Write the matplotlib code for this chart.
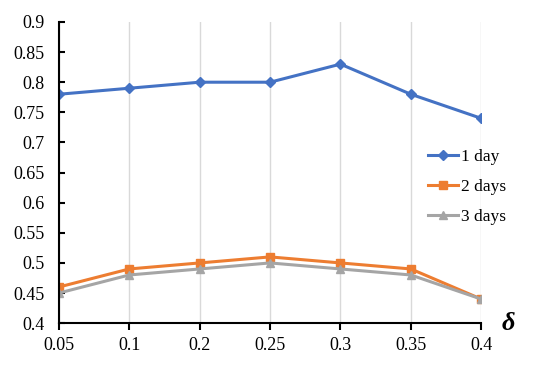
import matplotlib.pyplot as plt

# delta values on the x axis (categorical)
deltas = ['0.05', '0.1', '0.2', '0.25', '0.3', '0.35', '0.4']
one_day = [0.78, 0.79, 0.80, 0.80, 0.83, 0.78, 0.74]
two_days = [0.46, 0.49, 0.50, 0.51, 0.50, 0.49, 0.44]
three_days = [0.45, 0.48, 0.49, 0.50, 0.49, 0.48, 0.44]
y_ticks = [0.4, 0.45, 0.5, 0.55, 0.6, 0.65, 0.7, 0.75, 0.8, 0.85, 0.9]

plt.rcParams['font.family'] = ['Liberation Serif', 'DejaVu Serif']

fig = plt.figure(figsize=(5.5, 3.66), dpi=100)
ax = fig.add_axes([0.107, 0.117, 0.768, 0.823])

x = list(range(len(deltas)))
ax.plot(x, one_day, color='#4472C4', marker='D', markersize=5, lw=2.2, label='1 day')
ax.plot(x, two_days, color='#ED7D31', marker='s', markersize=6, lw=2.2, label='2 days')
ax.plot(x, three_days, color='#A5A5A5', marker='^', markersize=6, lw=2.2, label='3 days')

ax.set_xlim(0, len(deltas) - 1)
ax.set_ylim(0.4, 0.9)
ax.set_xticks(x)
ax.set_xticklabels(deltas)
ax.set_yticks(y_ticks)
ax.set_yticklabels([f'{v:g}' for v in y_ticks])
ax.tick_params(axis='both', labelsize=13, width=1.5, colors='black')
ax.tick_params(axis='x', direction='out', length=5, pad=5)
ax.tick_params(axis='y', direction='in', length=4, pad=10)

ax.grid(axis='x', color='#D9D9D9', lw=1)
ax.set_axisbelow(True)
for s in ['top', 'right']:
    ax.spines[s].set_visible(False)
for s in ['left', 'bottom']:
    ax.spines[s].set_linewidth(1.5)

fig.text(508 / 550, 1 - 323 / 366, 'δ', fontsize=19, fontweight='bold',
         fontstyle='italic', ha='center', va='center')

ax.legend(loc='center left', bbox_to_anchor=(428 / 550, 1 - 187 / 366),
          bbox_transform=fig.transFigure, frameon=False, borderpad=0,
          borderaxespad=0, fontsize=12.5, handlelength=1.75, labelspacing=0.8,
          handletextpad=0.15)

fig.savefig('out.png', dpi=100)
